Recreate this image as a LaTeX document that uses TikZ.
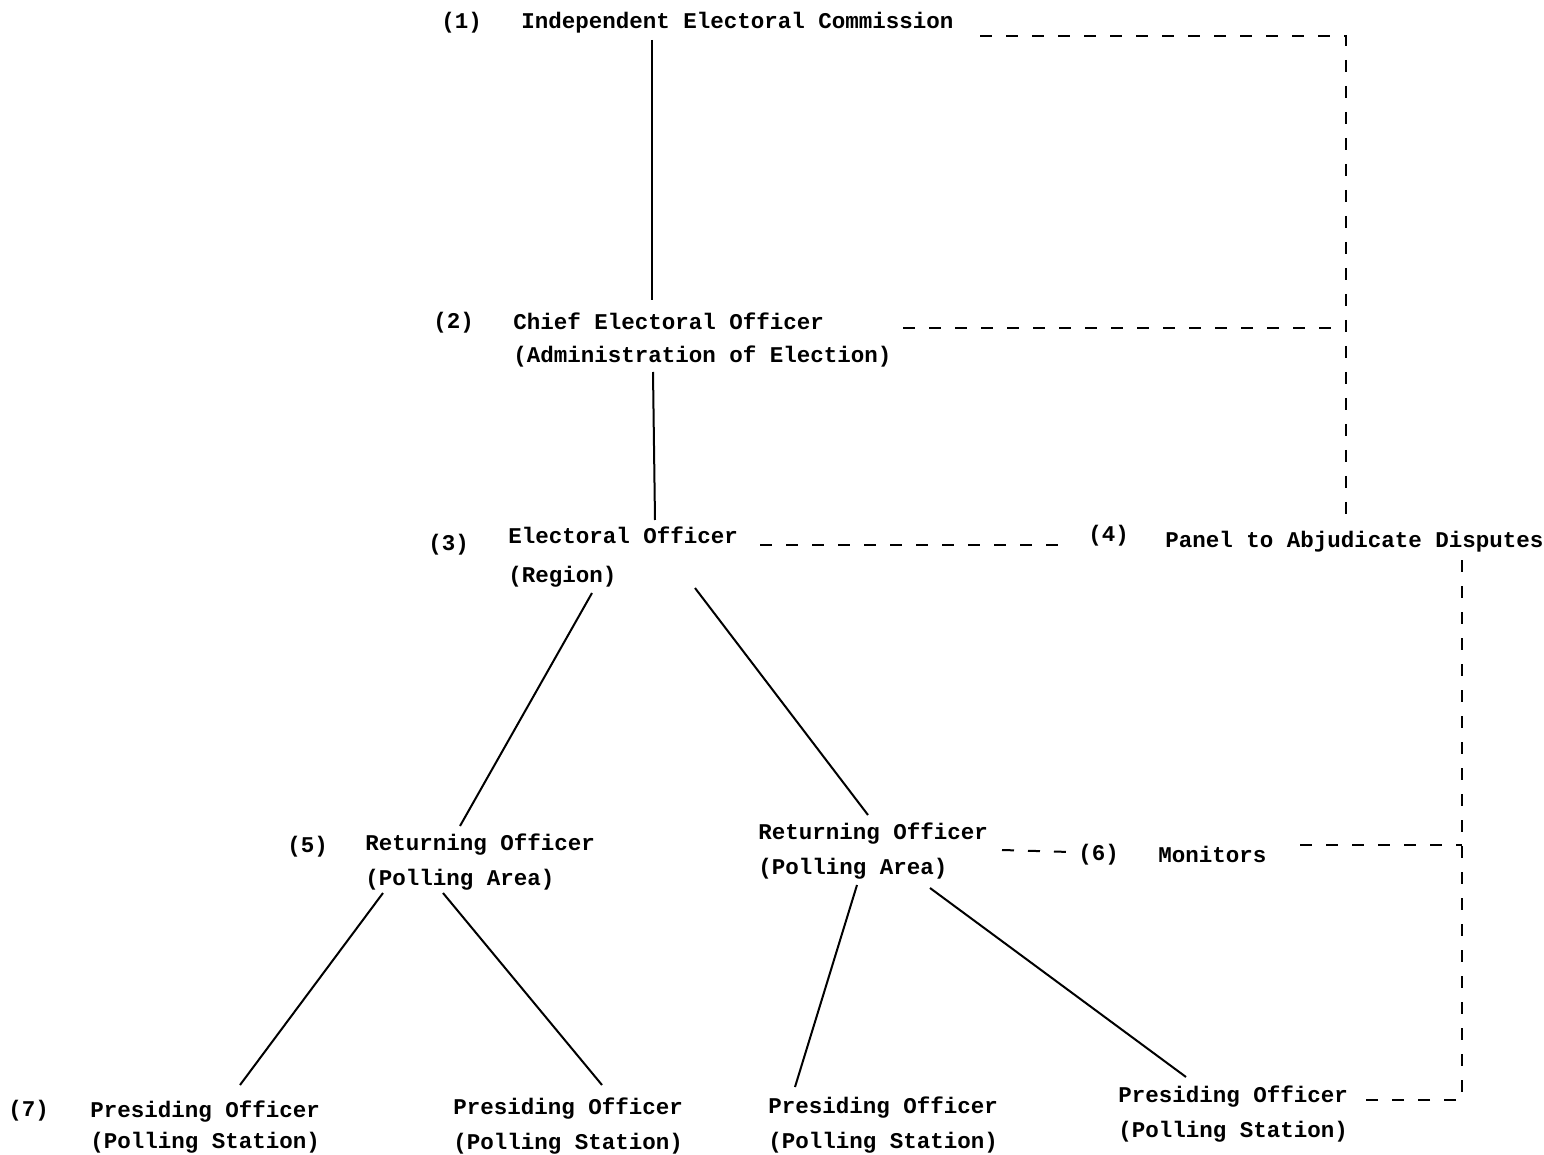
\documentclass[tikz,border=0pt]{standalone}
\usepackage{fontspec}
\setmainfont{Liberation Mono}
\newcommand{\txtfont}{\fontsize{11.25}{17.5}\selectfont\bfseries}
\tikzset{
  lab/.style={anchor=west, inner sep=0pt, font=\txtfont},
  blk/.style={anchor=north west, inner sep=0pt, align=left, font=\txtfont},
  conn/.style={line width=1pt},
  dconn/.style={line width=1pt, dash pattern=on 6pt off 7pt},
}
\begin{document}
\begin{tikzpicture}[x=0.5pt,y=-0.5pt]
\useasboundingbox (0,0) rectangle (1544,1155);
% labels
\node[lab] (l1) at (441,23) {(1)};
\node[lab] (n1) at (521,23) {Independent Electoral Commission};
\node[lab] (l2) at (433,323) {(2)};
\node[blk] (n2) at (513,312) {Chief Electoral Officer\\[-1pt](Administration of Election)};
\node[lab] (l3) at (428,545) {(3)};
\node[blk] (n3) at (508,526) {Electoral Officer\\[2pt](Region)};
\node[lab] (l4) at (1088,536) {(4)};
\node[lab] (n4) at (1165,542) {Panel to Abjudicate Disputes};
\node[lab] (l5) at (287,847) {(5)};
\node[blk] (n5) at (365,833) {Returning Officer\\(Polling Area)};
\node[blk] (n5b) at (758,822) {Returning Officer\\(Polling Area)};
\node[lab] (l6) at (1078,855) {(6)};
\node[lab] (n6) at (1158,854) {Monitors};
\node[lab] (l7) at (8,1111) {(7)};
\node[blk] (n7a) at (90,1100) {Presiding Officer\\[-2pt](Polling Station)};
\node[blk] (n7b) at (453,1097) {Presiding Officer\\(Polling Station)};
\node[blk] (n7c) at (768,1096) {Presiding Officer\\(Polling Station)};
\node[blk] (n7d) at (1118,1085) {Presiding Officer\\(Polling Station)};
% solid connectors
\draw[conn] ([shift={(131,17)}]n1.west) -- ([shift={(139,-12)}]n2.north west);
\draw[conn] ([shift={(140,60)}]n2.north west) -- ([shift={(147,-6)}]n3.north west);
\draw[conn] ([shift={(84,67)}]n3.north west) -- ([shift={(95,-7)}]n5.north west);
\draw[conn] ([shift={(187,62)}]n3.north west) -- ([shift={(110,-7)}]n5b.north west);
\draw[conn] ([shift={(18,60)}]n5.north west) -- ([shift={(150,-15)}]n7a.north west);
\draw[conn] ([shift={(78,60)}]n5.north west) -- ([shift={(149,-12)}]n7b.north west);
\draw[conn] ([shift={(99,63)}]n5b.north west) -- ([shift={(27,-9)}]n7c.north west);
\draw[conn] ([shift={(172,66)}]n5b.north west) -- ([shift={(68,-8)}]n7d.north west);
% dashed connectors
\draw[dconn] ([shift={(459,13)}]n1.west) -| ([shift={(181,-27)}]n4.west);
\draw[dconn] ([shift={(390,16)}]n2.north west) -- ([shift={(181,-214)}]n4.west);
\draw[dconn] ([shift={(252,19)}]n3.north west) -- ([shift={(-23,9)}]l4.west);
\draw[dconn] ([shift={(297,18)}]n4.west) |- ([shift={(237,15)}]n7d.north west);
\draw[dconn] ([shift={(142,-9)}]n6.west) -- ([shift={(297,303)}]n4.west);
\draw[dconn] ([shift={(244,28)}]n5b.north west) -- ([shift={(-8,-3)}]l6.west);
\end{tikzpicture}
\end{document}
